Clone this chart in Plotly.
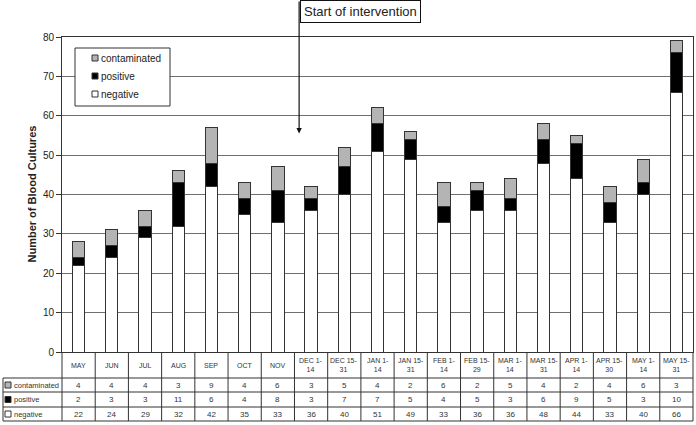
import plotly.graph_objects as go

# periods and counts
periods = ["MAY", "JUN", "JUL", "AUG", "SEP", "OCT", "NOV",
           "DEC 1-<br>14", "DEC 15-<br>31", "JAN 1-<br>14", "JAN 15-<br>31",
           "FEB 1-<br>14", "FEB 15-<br>29", "MAR 1-<br>14", "MAR 15-<br>31",
           "APR 1-<br>14", "APR 15-<br>30", "MAY 1-<br>14", "MAY 15-<br>31"]
contaminated = [4, 4, 4, 3, 9, 4, 6, 3, 5, 4, 2, 6, 2, 5, 4, 2, 4, 6, 3]
positive = [2, 3, 3, 11, 6, 4, 8, 3, 7, 7, 5, 4, 5, 3, 6, 9, 5, 3, 10]
negative = [22, 24, 29, 32, 42, 35, 33, 36, 40, 51, 49, 33, 36, 36, 48, 44, 33, 40, 66]

y_ticks = [0, 10, 20, 30, 40, 50, 60, 70, 80]
intervention_pos = 6.64   # between NOV and DEC 1-14
intervention_level = 55.5

FONT = "Arial, Liberation Sans, sans-serif"
LINE = "#333333"
GREY = "#b4b4b4"

# plot box in pixels
L, R, T, B = 62, 693, 37, 352
W, H = 696, 425
PW, PH = R - L, B - T

def px(x):
    return (x - L) / PW

def py(y):
    return (B - y) / PH

def label(xp, yp, text, size, anchor="center", color="#333"):
    return dict(x=xp, y=yp, xref="paper", yref="paper", text=text,
                showarrow=False, xanchor=anchor, yanchor="middle",
                font=dict(size=size, color=color, family=FONT))

n = len(periods)
x = list(range(n))

fig = go.Figure()
series = [("negative", negative, "#ffffff"),
          ("positive", positive, "#000000"),
          ("contaminated", contaminated, GREY)]
for name, vals, col in series:
    fig.add_trace(go.Bar(
        x=x, y=vals, name=name, width=0.37,
        marker=dict(color=col, line=dict(color=LINE, width=1)),
    ))

shapes = []
annotations = []

# data table under the axis
row_lines = [378, 392, 407, 421]
for yp in row_lines:
    shapes.append(dict(type="line", xref="paper", yref="paper",
                       x0=px(3), x1=1, y0=py(yp), y1=py(yp),
                       line=dict(color=LINE, width=1)))
shapes.append(dict(type="line", xref="paper", yref="paper",
                   x0=px(3), x1=px(3), y0=py(378), y1=py(421),
                   line=dict(color=LINE, width=1)))
for i in range(n + 1):
    shapes.append(dict(type="line", xref="paper", yref="paper",
                       x0=i / n, x1=i / n, y0=py(352), y1=py(421),
                       line=dict(color=LINE, width=1)))

for i, lab in enumerate(periods):
    xc = (i + 0.5) / n
    annotations.append(label(xc, py(365), lab, 7))
    for yc, vals in [(385, contaminated), (399.5, positive), (414, negative)]:
        annotations.append(label(xc, py(yc), str(vals[i]), 8))

# row headers with small swatches
for yc, name, col in [(385, "contaminated", GREY),
                      (399.5, "positive", "#000000"),
                      (414, "negative", "#ffffff")]:
    shapes.append(dict(type="rect", xref="paper", yref="paper",
                       x0=px(5), x1=px(11), y0=py(yc + 3), y1=py(yc - 3),
                       fillcolor=col, line=dict(color=LINE, width=1)))
    annotations.append(label(px(12), py(yc), name, 7.5, anchor="left"))

# legend box drawn by hand to match the original
shapes.append(dict(type="rect", xref="paper", yref="paper",
                   x0=px(75), x1=px(170), y0=py(106), y1=py(48),
                   fillcolor="white", line=dict(color=LINE, width=1)))
for yc, name, col in [(58, "contaminated", GREY),
                      (76, "positive", "#000000"),
                      (94, "negative", "#ffffff")]:
    shapes.append(dict(type="rect", xref="paper", yref="paper",
                       x0=px(92), x1=px(98), y0=py(yc + 3), y1=py(yc - 3),
                       fillcolor=col, line=dict(color=LINE, width=1)))
    annotations.append(label(px(99), py(yc), name, 10, anchor="left", color="#222"))

# intervention marker
annotations.append(dict(x=intervention_pos, y=intervention_level, xref="x", yref="y",
                        ax=0, ay=-134, axref="pixel", ayref="pixel",
                        text="", showarrow=True, arrowhead=2, arrowsize=0.9,
                        arrowwidth=1.2, arrowcolor="#111", standoff=0))
annotations.append(dict(x=px(300), y=py(0), xref="paper", yref="paper",
                        xanchor="left", yanchor="top",
                        text="Start of intervention", showarrow=False,
                        bgcolor="white", bordercolor="#111", borderwidth=1, borderpad=3,
                        font=dict(size=13, color="#222", family=FONT)))

# y axis title
annotations.append(dict(x=px(31), y=0.5, xref="paper", yref="paper",
                        xanchor="center", yanchor="middle",
                        text="<b>Number of Blood Cultures</b>", textangle=-90,
                        showarrow=False, font=dict(size=11, color="#222", family=FONT)))

fig.update_layout(
    width=W, height=H,
    margin=dict(l=L, r=W - R, t=T, b=H - B),
    barmode="stack", showlegend=False,
    paper_bgcolor="white", plot_bgcolor="white",
    font=dict(family=FONT, color="#333", size=10),
    xaxis=dict(range=[-0.5, n - 0.5], showticklabels=False, ticks="",
               showgrid=False, showline=True, mirror=True, linecolor=LINE,
               zeroline=False),
    yaxis=dict(range=[0, 80], tickvals=y_ticks, ticks="outside", ticklen=5,
               tickcolor=LINE, showgrid=True, gridcolor="#6f6f6f", gridwidth=1,
               showline=True, mirror=True, linecolor=LINE, zeroline=False,
               tickfont=dict(size=10, color="#222")),
    shapes=shapes,
    annotations=annotations,
)

fig.write_html("out.html", config={"displayModeBar": False},
               post_script="document.body.style.margin='0';")
